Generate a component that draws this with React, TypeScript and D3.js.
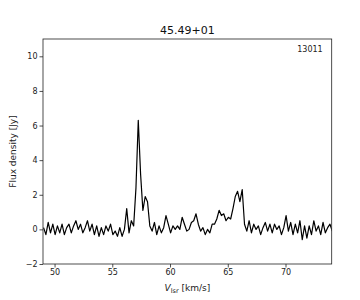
import React, { useEffect, useRef } from "react";
import * as d3 from "d3";

const title = "45.49+01";
const tag = "13011";
const xTicks = [50, 55, 60, 65, 70];
const yTicks = [-2, 0, 2, 4, 6, 8, 10];

const velocity = [
  49.05, 49.25, 49.45, 49.65, 49.85, 50.05, 50.25, 50.45, 50.65, 50.85,
  51.05, 51.25, 51.45, 51.65, 51.85, 52.05, 52.25, 52.45, 52.65, 52.85,
  53.05, 53.25, 53.45, 53.65, 53.85, 54.05, 54.25, 54.45, 54.65, 54.85,
  55.05, 55.25, 55.45, 55.65, 55.85, 56.05, 56.25, 56.45, 56.65, 56.85,
  57.05, 57.25, 57.45, 57.65, 57.85, 58.05, 58.25, 58.45, 58.65, 58.85,
  59.05, 59.25, 59.45, 59.65, 59.85, 60.05, 60.25, 60.45, 60.65, 60.85,
  61.05, 61.25, 61.45, 61.65, 61.85, 62.05, 62.25, 62.45, 62.65, 62.85,
  63.05, 63.25, 63.45, 63.65, 63.85, 64.05, 64.25, 64.45, 64.65, 64.85,
  65.05, 65.25, 65.45, 65.65, 65.85, 66.05, 66.25, 66.45, 66.65, 66.85,
  67.05, 67.25, 67.45, 67.65, 67.85, 68.05, 68.25, 68.45, 68.65, 68.85,
  69.05, 69.25, 69.45, 69.65, 69.85, 70.05, 70.25, 70.45, 70.65, 70.85,
  71.05, 71.25, 71.45, 71.65, 71.85, 72.05, 72.25, 72.45, 72.65, 72.85,
  73.05, 73.25, 73.45, 73.65, 73.85, 74.05,
];

const flux = [
  0.1, -0.3, 0.4, -0.2, 0.3, -0.3, 0.2, -0.2, 0.3, -0.3,
  0.1, 0.3, -0.2, 0.2, 0.5, 0.0, 0.3, -0.2, 0.1, 0.5,
  -0.1, 0.3, -0.3, 0.2, -0.4, 0.1, -0.3, 0.2, -0.1, 0.3,
  -0.3, -0.1, -0.4, 0.1, -0.4, 0.0, 1.2, -0.2, 0.5, 0.2,
  2.4, 6.3, 3.2, 1.1, 1.9, 1.6, 0.2, -0.1, 0.4, -0.3,
  0.2, -0.2, 0.1, 0.8, 0.3, -0.2, 0.2, 0.0, 0.2, 0.0,
  0.7, 0.3, -0.1, 0.0, 0.4, 0.5, 0.9, 0.3, -0.1, 0.1,
  -0.3, 0.0, -0.2, 0.3, 0.3, 0.6, 1.1, 0.8, 0.9, 0.5,
  0.7, 0.6, 1.2, 1.9, 2.2, 1.6, 2.3, 0.3, -0.1, 0.5,
  -0.2, 0.3, 0.0, 0.2, -0.3, 0.1, 0.4, -0.1, 0.3, -0.2,
  0.3, 0.0, 0.2, -0.3, 0.1, 0.8, -0.1, 0.4, -0.3, 0.3,
  -0.2, 0.5, -0.6, 0.2, -0.5, 0.2, -0.3, 0.5, -0.1, 0.2,
  -0.3, 0.4, -0.2, 0.1, 0.3, -0.1,
];

const W = 360;
const H = 300;
const M = { left: 43, right: 28.3, top: 39, bottom: 36 };
const FONT = "'DejaVu Sans', sans-serif";

export default function App() {
  const ref = useRef<SVGSVGElement | null>(null);

  useEffect(() => {
    document.body.style.margin = "0";
    const svg = d3.select(ref.current);
    svg.selectAll("*").remove();

    const x = d3.scaleLinear().domain([49, 74]).range([M.left, W - M.right]);
    const y = d3.scaleLinear().domain([-2, 11]).range([H - M.bottom, M.top]);

    svg.append("defs").append("clipPath").attr("id", "clip")
      .append("rect")
      .attr("x", M.left).attr("y", M.top)
      .attr("width", W - M.left - M.right).attr("height", H - M.top - M.bottom);

    const pts = velocity.map((v, i) => [v, flux[i]] as [number, number]);
    const line = d3.line<[number, number]>().x(d => x(d[0])).y(d => y(d[1]));

    svg.append("path")
      .datum(pts)
      .attr("clip-path", "url(#clip)")
      .attr("d", line)
      .attr("fill", "none")
      .attr("stroke", "#000")
      .attr("stroke-width", 1.2)
      .attr("stroke-linejoin", "round");

    svg.append("rect")
      .attr("x", M.left).attr("y", M.top)
      .attr("width", W - M.left - M.right).attr("height", H - M.top - M.bottom)
      .attr("fill", "none").attr("stroke", "#222").attr("stroke-width", 0.8);

    const gx = svg.append("g").attr("transform", `translate(0,${H - M.bottom})`)
      .call(d3.axisBottom(x).tickValues(xTicks).tickSize(3.5).tickPadding(2).tickFormat(d3.format("d")));
    const gy = svg.append("g").attr("transform", `translate(${M.left},0)`)
      .call(d3.axisLeft(y).tickValues(yTicks).tickSize(3.5).tickPadding(2).tickFormat(d => (d as number) < 0 ? "\u2212" + Math.abs(d as number) : String(d)));
    [gx, gy].forEach(g => {
      g.select(".domain").remove();
      g.selectAll("line").attr("stroke", "#222").attr("stroke-width", 0.8);
      g.selectAll("text").attr("font-family", FONT).attr("font-size", 8).attr("fill", "#222");
    });

    svg.append("text")
      .attr("x", (M.left + W - M.right) / 2).attr("y", 34)
      .attr("text-anchor", "middle")
      .attr("font-family", FONT).attr("font-size", 11).attr("fill", "#111")
      .text(title);

    svg.append("text")
      .attr("x", W - M.right - 9).attr("y", 52)
      .attr("text-anchor", "end")
      .attr("font-family", FONT).attr("font-size", 8).attr("fill", "#222")
      .text(tag);

    svg.append("text")
      .attr("transform", `translate(16,${(M.top + H - M.bottom) / 2}) rotate(-90)`)
      .attr("text-anchor", "middle")
      .attr("font-family", FONT).attr("font-size", 9).attr("fill", "#222")
      .text("Flux density [Jy]");

    const xl = svg.append("text")
      .attr("x", (M.left + W - M.right) / 2).attr("y", 291)
      .attr("text-anchor", "middle")
      .attr("font-family", FONT).attr("font-size", 9).attr("fill", "#222");
    xl.append("tspan").attr("font-style", "italic").text("V");
    xl.append("tspan").attr("font-size", 6.5).attr("dy", 2).text("lsr");
    xl.append("tspan").attr("dy", -2).text(" [km/s]");
  }, []);

  return (
    <svg ref={ref} width={W} height={H}
      style={{ position: "absolute", left: 0, top: 0, background: "#fff" }} />
  );
}
